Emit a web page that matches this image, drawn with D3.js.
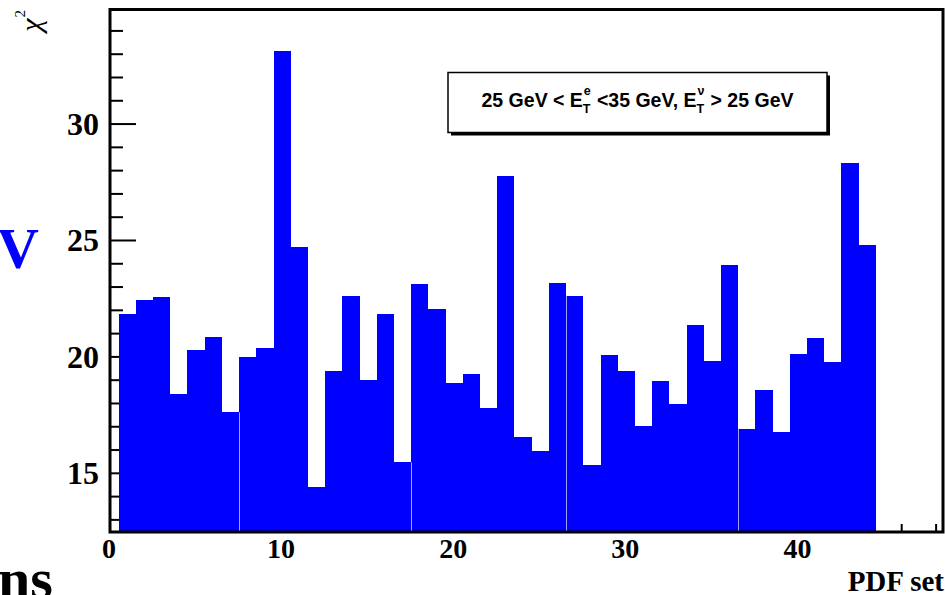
<!DOCTYPE html>
<html>
<head>
<meta charset="utf-8">
<script src="https://cdn.jsdelivr.net/npm/d3@7"></script>
<style>
  html, body { margin: 0; padding: 0; background: #fff; }
  svg { display: block; }
</style>
</head>
<body>
<svg id="chart" width="945" height="595"></svg>
<script>
// chi^2 per PDF set, bins centred on 1..44
const pdfSets = d3.range(1, 45);
const chi2 = [
  21.83, 22.44, 22.59, 18.41, 20.30, 20.87, 17.62, 20.01, 20.38, 33.13,
  24.70, 14.40, 19.40, 22.61, 19.01, 21.83, 15.47, 23.12, 22.07, 18.87,
  19.28, 17.82, 27.78, 16.57, 15.96, 23.19, 22.63, 15.37, 20.08, 19.40,
  17.05, 18.98, 17.96, 21.38, 19.84, 23.93, 16.92, 18.56, 16.79, 20.11,
  20.81, 19.78, 28.34, 24.80
];
// bin edges where the fill shows a faint seam
const seams = [7.5, 17.5, 26.5, 36.5];
const xTickLabels = [0, 10, 20, 30, 40];
const yTickLabels = [15, 20, 25, 30];

const svg = d3.select("#chart");
const frame = { left: 110, right: 943, top: 9.5, bottom: 532 };
const x = d3.scaleLinear().domain([0, 48.4]).range([frame.left, frame.right]);
const y = d3.scaleLinear().domain([12.48, 34.92]).range([frame.bottom, frame.top]);

const serif = "'Liberation Serif', 'Times New Roman', serif";
const sans = "'Liberation Sans', Arial, sans-serif";

// inward ticks (drawn beneath the bars)
const ticks = svg.append("g").attr("stroke", "#000").attr("stroke-width", 2);
d3.range(13, 35).forEach(v => {
  const major = v % 5 === 0;
  ticks.append("line")
    .attr("x1", frame.left).attr("x2", frame.left + (major ? 26 : 13))
    .attr("y1", y(v)).attr("y2", y(v));
});
d3.range(0, 49, 2).forEach(v => {
  const major = v % 10 === 0;
  ticks.append("line")
    .attr("x1", x(v)).attr("x2", x(v))
    .attr("y1", frame.bottom).attr("y2", frame.bottom - (major ? 15 : 8));
});

// histogram bars
const yBase = y.domain()[0];
svg.append("g")
  .attr("shape-rendering", "crispEdges")
  .selectAll("rect")
  .data(pdfSets.map((s, i) => ({ s, v: chi2[i] })))
  .join("rect")
  .attr("x", d => Math.round(x(d.s - 0.5)))
  .attr("width", d => Math.round(x(d.s + 0.5)) - Math.round(x(d.s - 0.5)))
  .attr("y", d => y(d.v))
  .attr("height", d => y(yBase) - y(d.v))
  .attr("fill", "#0000ff");

svg.append("g").selectAll("line")
  .data(seams)
  .join("line")
  .attr("x1", d => Math.round(x(d)) + 0.5).attr("x2", d => Math.round(x(d)) + 0.5)
  .attr("y1", d => {
    const i = Math.floor(d) - 1;
    return y(Math.min(chi2[i], chi2[i + 1]));
  })
  .attr("y2", frame.bottom)
  .attr("stroke", "#a4a4ff").attr("stroke-width", 1);

// frame
svg.append("rect")
  .attr("x", frame.left).attr("y", frame.top)
  .attr("width", frame.right - frame.left).attr("height", frame.bottom - frame.top)
  .attr("fill", "none").attr("stroke", "#000").attr("stroke-width", 3);

// tick labels
svg.append("g").selectAll("text")
  .data(yTickLabels)
  .join("text")
  .attr("x", 99).attr("y", d => y(d) + 11)
  .attr("text-anchor", "end")
  .attr("font-family", serif).attr("font-weight", "bold").attr("font-size", 32)
  .text(d => d);

svg.append("g").selectAll("text")
  .data(xTickLabels)
  .join("text")
  .attr("x", d => x(d) - 1).attr("y", 558)
  .attr("text-anchor", "middle")
  .attr("font-family", serif).attr("font-weight", "bold").attr("font-size", 28)
  .text(d => d);

// axis titles
svg.append("text")
  .attr("x", 944).attr("y", 591)
  .attr("text-anchor", "end")
  .attr("font-family", serif).attr("font-weight", "bold").attr("font-size", 29)
  .text("PDF set");

const yt = svg.append("text")
  .attr("transform", "translate(41,10) rotate(-90)")
  .attr("text-anchor", "end")
  .attr("font-family", serif).attr("font-size", 30);
yt.append("tspan").attr("font-style", "italic").text("χ");
yt.append("tspan").attr("font-size", 15).attr("dy", -16).attr("dx", 1).text("2");

// cut-off slide text around the plot
svg.append("text")
  .attr("x", 39).attr("y", 268)
  .attr("text-anchor", "end")
  .attr("font-family", serif).attr("font-weight", "bold").attr("font-size", 58)
  .attr("fill", "#0000ff")
  .text("V");
svg.append("text")
  .attr("x", -2).attr("y", 598)
  .attr("font-family", serif).attr("font-weight", "bold").attr("font-size", 58)
  .attr("fill", "#000")
  .text("ns");

// cut label box with shadow
const box = { x: 448, y: 72.5, w: 379, h: 60 };
svg.append("rect")
  .attr("x", box.x + 3).attr("y", box.y + 3)
  .attr("width", box.w).attr("height", box.h)
  .attr("fill", "#000");
svg.append("rect")
  .attr("x", box.x).attr("y", box.y)
  .attr("width", box.w).attr("height", box.h)
  .attr("fill", "#fff").attr("stroke", "#000").attr("stroke-width", 1.5);

const label = svg.append("g");
const base = 107, fs = 19.5, sfs = 12.5;
const pieces = [
  { t: "25 GeV < E" },
  { sup: "e", sub: "T" },
  { t: " <35 GeV, E" },
  { sup: "ν", sub: "T" },
  { t: " > 25 GeV" }
];
let cx = 0;
pieces.forEach(p => {
  if (p.t) {
    const el = label.append("text")
      .attr("x", cx).attr("y", base)
      .attr("font-family", sans).attr("font-weight", "bold").attr("font-size", fs)
      .style("white-space", "pre")
      .text(p.t);
    cx += el.node().getComputedTextLength();
  } else {
    const a = label.append("text")
      .attr("x", cx + 1).attr("y", base - 12)
      .attr("font-family", sans).attr("font-weight", "bold").attr("font-size", sfs)
      .text(p.sup);
    const b = label.append("text")
      .attr("x", cx).attr("y", base + 6)
      .attr("font-family", sans).attr("font-weight", "bold").attr("font-size", sfs)
      .text(p.sub);
    cx += Math.max(a.node().getComputedTextLength(), b.node().getComputedTextLength()) + 1;
  }
});
label.attr("transform", `translate(${box.x + box.w / 2 - cx / 2},0)`);
</script>
</body>
</html>
